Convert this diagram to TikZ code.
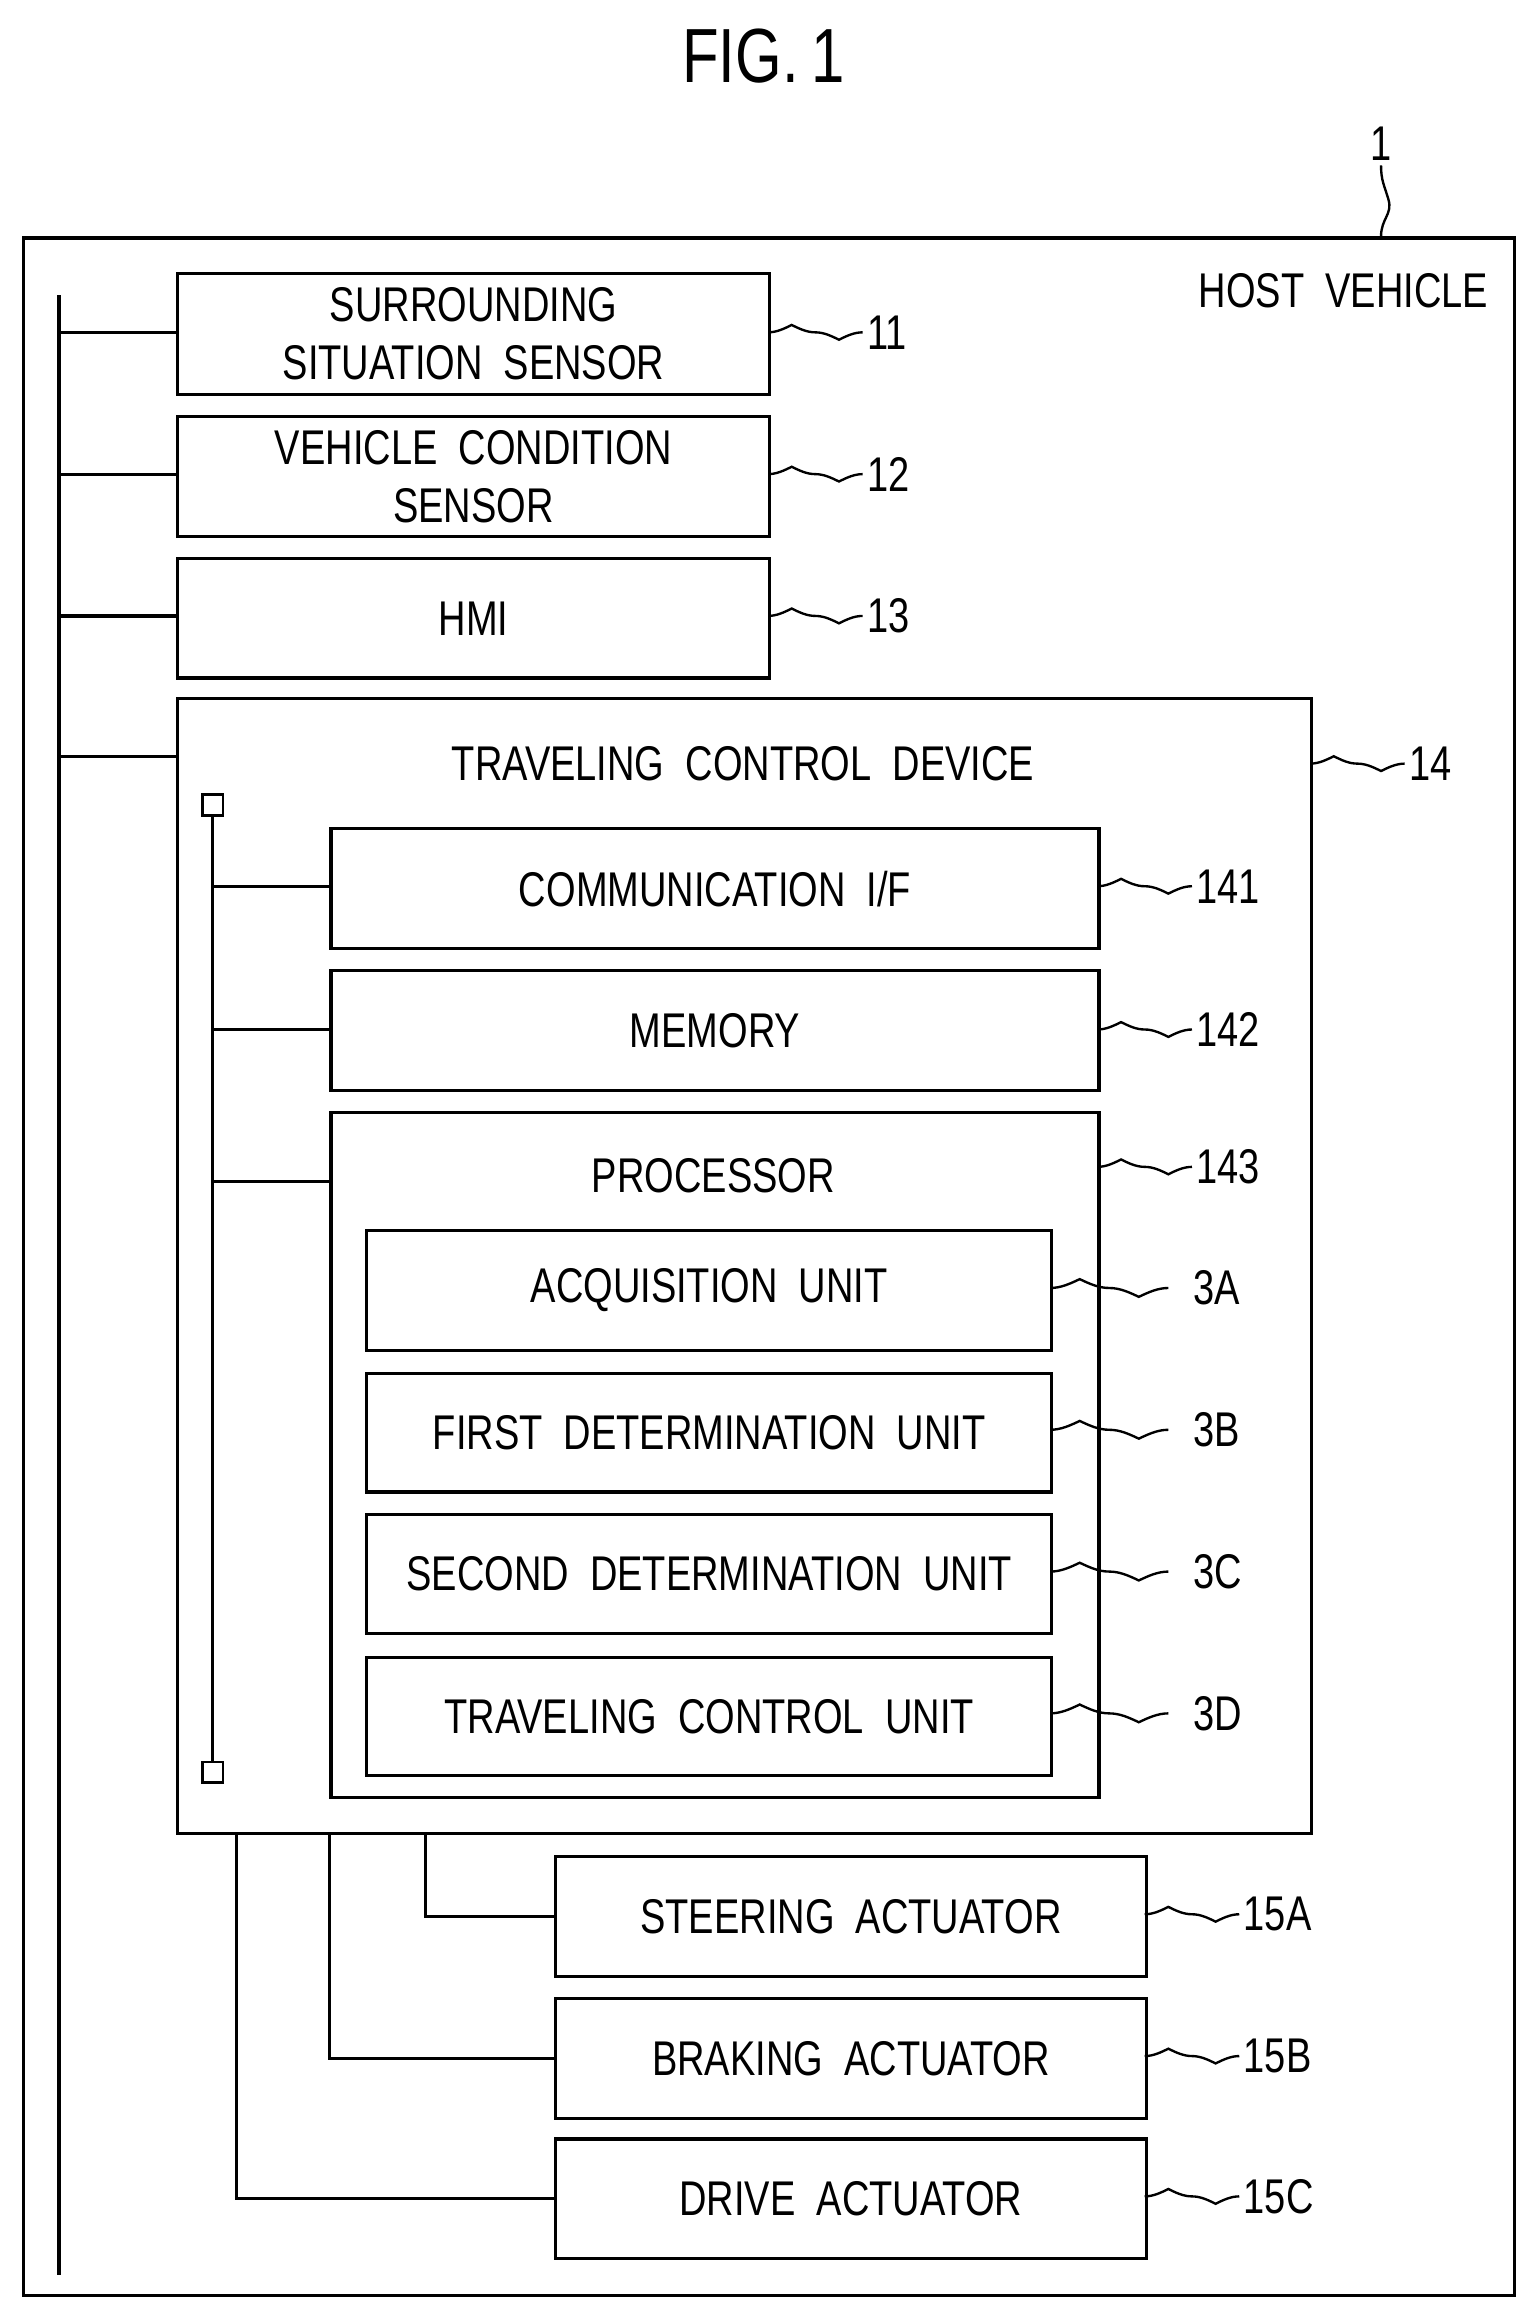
\documentclass[tikz,border=0pt]{standalone}
\usepackage{fontspec}
\setmainfont{Liberation Sans}[FakeStretch=0.78]
\begin{document}
\begin{tikzpicture}[x=1pt,y=-1pt,line width=2.2pt,
  box/.style={draw,rectangle,inner sep=0pt,align=center,font=\fontsize{33}{39}\selectfont},
  lab/.style={font=\fontsize{33}{39}\selectfont,anchor=west,inner sep=2pt},
  sq/.style={line width=1.6pt}]
\useasboundingbox (0,0) rectangle (1040,1568);
\node[font=\fontsize{52}{60}\selectfont] (fig) at (517,38) {FIG.\,1};
\node[draw,rectangle,minimum width=1009,minimum height=1393,anchor=north west] (hv) at (15,160) {};
\node[font=\fontsize{33}{39}\selectfont,anchor=east] (hvt) at (1012,197) {HOST\ \ VEHICLE};
\coordinate (c1) at (935,160);
\draw[sq] (c1) .. controls (935,148) and (943,145) .. (940,135) .. controls (937,125) and (935,122) .. (935,112);
\node[lab,anchor=south] (l1) at (935,112) {1};
% bus
\coordinate (bt) at (40,200); \coordinate (bb) at (40,1540);
\draw (bt) -- (bb);
\newcommand\sqg[3]{\coordinate (s#3) at (#1,#2);
  \draw[sq] (s#3) cos ++(16,-5) sin ++(16,5) cos ++(16,5) sin ++(16,-5) coordinate (e#3);
  \node[lab] at (e#3) {#3};}
\newcommand\bx[6]{\node[box,minimum width=#3-#1,minimum height=#4-#2,anchor=north west] (#5) at (#1,#2) {#6};}
\bx{119}{184}{520}{266}{b11}{SURROUNDING\\SITUATION\ \ SENSOR}
\bx{119}{281}{520}{362}{b12}{VEHICLE\ \ CONDITION\\SENSOR}
\bx{119}{377}{520}{458}{b13}{\raisebox{-8pt}{HMI}}
\node[draw,rectangle,minimum width=768,minimum height=768,anchor=north west] (b14) at (119,472) {};
\node[font=\fontsize{33}{39}\selectfont] (t14) at (503,517) {TRAVELING\ \ CONTROL\ \ DEVICE};
\foreach \y/\n in {225/b11,321/b12,417/b13,512/b14} \draw (40,\y) -- (\n.west |- 0,\y);
\sqg{520}{225}{11}\sqg{520}{321}{12}\sqg{520}{417}{13}\sqg{887}{517}{14}
% inner bus
\node[draw,line width=1.8pt,minimum size=14pt,inner sep=0pt] (q1) at (144,545) {};
\node[draw,line width=1.8pt,minimum size=14pt,inner sep=0pt] (q2) at (144,1200) {};
\draw (q1) -- (q2);
\bx{223}{560}{743}{641}{b141}{COMMUNICATION\ \ I/F}
\bx{223}{656}{743}{737}{b142}{MEMORY}
\node[draw,rectangle,minimum width=520,minimum height=464,anchor=north west] (b143) at (223,752) {};
\node[font=\fontsize{33}{39}\selectfont] (t143) at (483,796) {PROCESSOR};
\foreach \y/\n in {600/b141,697/b142,800/b143} \draw (144,\y) -- (\n.west |- 0,\y);
\sqg{743}{600}{141}\sqg{743}{697}{142}\sqg{743}{790}{143}
\bx{247}{832}{711}{913}{b3A}{ACQUISITION\ \ UNIT}
\bx{247}{929}{711}{1009}{b3B}{FIRST\ \ DETERMINATION\ \ UNIT}
\bx{247}{1024}{711}{1105}{b3C}{SECOND\ \ DETERMINATION\ \ UNIT}
\bx{247}{1121}{711}{1201}{b3D}{TRAVELING\ \ CONTROL\ \ UNIT}
\newcommand\sqb[3]{\coordinate (s#3) at (#1,#2);
  \draw[sq] (s#3) cos ++(20,-6) sin ++(20,6) cos ++(20,6) sin ++(20,-6) coordinate (e#3);
  \node[lab] at ([xshift=14]e#3) {#3};}
\sqb{711}{872}{3A}\sqb{711}{968}{3B}\sqb{711}{1064}{3C}\sqb{711}{1160}{3D}
\bx{375}{1256}{775}{1337}{b15A}{STEERING\ \ ACTUATOR}
\bx{375}{1352}{775}{1433}{b15B}{BRAKING\ \ ACTUATOR}
\bx{375}{1447}{775}{1528}{b15C}{DRIVE\ \ ACTUATOR}
\draw (b14.south -| 288,0) |- (b15A.west);
\draw (b14.south -| 223,0) |- (b15B.west);
\draw (b14.south -| 160,0) |- (b15C.west);
\sqg{775}{1296}{15A}\sqg{775}{1392}{15B}\sqg{775}{1487}{15C}
\end{tikzpicture}
\end{document}
